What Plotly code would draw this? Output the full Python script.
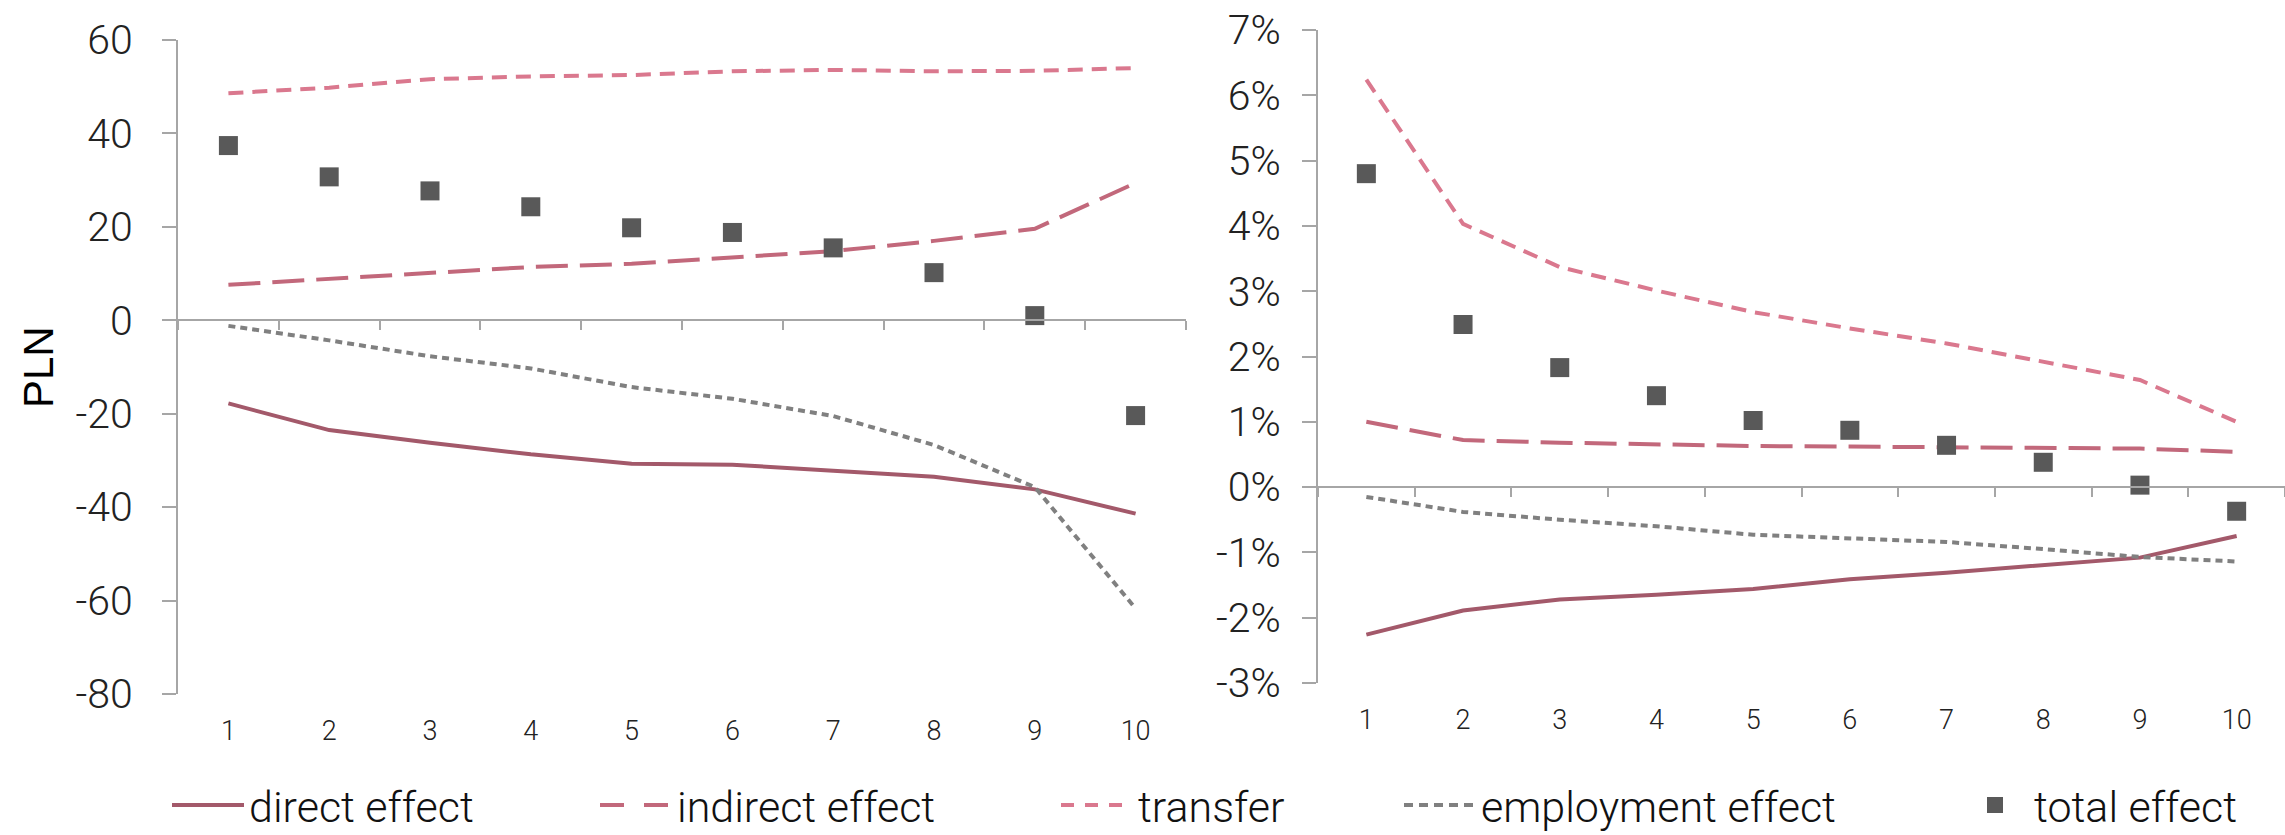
import plotly.graph_objects as go

# Deciles 1..10
deciles = list(range(1, 11))

# Left panel: effects in PLN
pln_direct = [-17.8, -23.5, -26.2, -28.7, -30.7, -30.9, -32.2, -33.5, -36.2, -41.4]
pln_indirect = [7.6, 8.9, 10.3, 11.4, 12.1, 13.4, 14.8, 17.0, 19.6, 29.4]
pln_transfer = [48.6, 49.8, 51.6, 52.2, 52.5, 53.3, 53.6, 53.3, 53.4, 54.0]
pln_employment = [-1.2, -4.3, -7.7, -10.3, -14.3, -16.8, -20.5, -26.7, -35.7, -61.7]
pln_total = [37.4, 30.7, 27.7, 24.3, 19.8, 18.8, 15.5, 10.2, 1.0, -20.4]

# Right panel: effects in % of income
pct_direct = [-2.26, -1.89, -1.72, -1.65, -1.56, -1.41, -1.31, -1.19, -1.08, -0.75]
pct_indirect = [1.00, 0.72, 0.68, 0.65, 0.63, 0.62, 0.61, 0.61, 0.59, 0.54]
pct_transfer = [6.24, 4.03, 3.37, 3.01, 2.68, 2.43, 2.20, 1.92, 1.64, 1.00]
pct_employment = [-0.15, -0.38, -0.50, -0.60, -0.73, -0.78, -0.84, -0.95, -1.07, -1.14]
pct_total = [4.80, 2.49, 1.83, 1.40, 1.02, 0.87, 0.64, 0.38, 0.03, -0.37]

# Axis ticks
pln_ticks = [-80, -60, -40, -20, 0, 20, 40, 60]
pln_ticktext = [str(v) for v in pln_ticks]
pct_ticks = [-3, -2, -1, 0, 1, 2, 3, 4, 5, 6, 7]
pct_ticktext = [f"{v}%" for v in pct_ticks]

names = ["direct effect", "indirect effect", "transfer", "employment effect", "total effect"]
colors = ["#A3596A", "#C2687B", "#DA788E", "#808080", "#595959"]
dashes = ["solid", "32px,12px", "15px,9px", "7px,5px", None]
# patterns for the wider legend swatches
legend_dashes = ["solid", "24px,20px", "13px,11px", "9px,6px", None]

W, H = 2285, 835
FONT = "Roboto, 'Open Sans', sans-serif"
AXIS_COLOR = "#A6A6A6"
legend_ids = ["legend", "legend2", "legend3", "legend4", "legend5"]

fig = go.Figure()

panels = [
    ("x", "y", [pln_direct, pln_indirect, pln_transfer, pln_employment, pln_total]),
    ("x2", "y2", [pct_direct, pct_indirect, pct_transfer, pct_employment, pct_total]),
]

for xa, ya, series in panels:
    for i, (name, vals) in enumerate(zip(names, series)):
        if dashes[i] is None:
            fig.add_trace(go.Scatter(
                x=deciles, y=vals, name=name, mode="markers", xaxis=xa, yaxis=ya,
                marker=dict(symbol="square", size=19, color=colors[i]),
                showlegend=False, hoverinfo="skip",
            ))
        else:
            fig.add_trace(go.Scatter(
                x=deciles, y=vals, name=name, mode="lines", xaxis=xa, yaxis=ya,
                line=dict(color=colors[i], width=4, dash=dashes[i]),
                showlegend=False, hoverinfo="skip",
            ))

# Legend entries (no data of their own)
for i, name in enumerate(names):
    if legend_dashes[i] is None:
        fig.add_trace(go.Scatter(
            x=[None], y=[None], name=name, mode="markers",
            marker=dict(symbol="square", size=19, color=colors[i]),
            legend=legend_ids[i], hoverinfo="skip",
        ))
    else:
        fig.add_trace(go.Scatter(
            x=[None], y=[None], name=name, mode="lines",
            line=dict(color=colors[i], width=4, dash=legend_dashes[i]),
            legend=legend_ids[i], hoverinfo="skip",
        ))

# Empty traces so the zero-line axes get drawn
fig.add_trace(go.Scatter(x=[], y=[], xaxis="x3", yaxis="y", showlegend=False))
fig.add_trace(go.Scatter(x=[], y=[], xaxis="x4", yaxis="y2", showlegend=False))

left_dom_x = [178 / W, 1186 / W]
left_dom_y = [(H - 694) / H, (H - 40) / H]
right_dom_x = [1318 / W, 1.0]
right_dom_y = [(H - 683) / H, (H - 30) / H]


def zero_pos(dom, lo, hi):
    return dom[0] + (0 - lo) / (hi - lo) * (dom[1] - dom[0])


boundaries = [d - 0.5 for d in deciles] + [deciles[-1] + 0.5]

label_axis = dict(
    range=[0.5, 10.5], tickvals=deciles, ticks="outside", ticklen=13,
    tickcolor="rgba(0,0,0,0)", showline=False, showgrid=False, zeroline=False,
    tickfont=dict(size=27, color="#222222"), automargin=False,
)
zero_axis = dict(
    range=[0.5, 10.5], tickvals=boundaries, ticks="outside", ticklen=9,
    tickwidth=2, tickcolor=AXIS_COLOR, showline=True, linecolor=AXIS_COLOR,
    linewidth=2, showticklabels=False, showgrid=False, zeroline=False,
    anchor="free", automargin=False,
)
value_axis = dict(
    showline=True, linecolor=AXIS_COLOR, linewidth=2, ticks="outside",
    ticklen=14, tickwidth=2, tickcolor=AXIS_COLOR, showgrid=False,
    zeroline=False, tickfont=dict(size=41, color="#222222"), automargin=False,
)

fig.update_layout(
    width=W, height=H,
    margin=dict(l=0, r=0, t=0, b=0, autoexpand=False),
    paper_bgcolor="white", plot_bgcolor="white",
    font=dict(family=FONT, weight=300, color="#222222"),
    xaxis=dict(domain=left_dom_x, anchor="y", **label_axis),
    yaxis=dict(domain=left_dom_y, anchor="x", range=[-80, 60],
               tickvals=pln_ticks, ticktext=pln_ticktext,
               ticklabelstandoff=21, **value_axis),
    xaxis2=dict(domain=right_dom_x, anchor="y2", **label_axis),
    yaxis2=dict(domain=right_dom_y, anchor="x2", range=[-3, 7],
                tickvals=pct_ticks, ticktext=pct_ticktext,
                ticklabelstandoff=13, **value_axis),
    xaxis3=dict(domain=left_dom_x, overlaying="x",
                position=zero_pos(left_dom_y, -80, 60), **zero_axis),
    xaxis4=dict(domain=right_dom_x, overlaying="x2",
                position=zero_pos(right_dom_y, -3, 7), **zero_axis),
    showlegend=True,
)

# One legend per series, spread along the bottom
legend_x = [167, 595, 1056, 1399, 1956]
legend_itemwidth = [72, 72, 72, 72, 68]
for lid, lx, iw in zip(legend_ids, legend_x, legend_itemwidth):
    fig.update_layout({lid: dict(
        orientation="h", x=lx / W, y=(H - 805) / H, xanchor="left",
        yanchor="middle", xref="container", yref="container",
        bgcolor="rgba(0,0,0,0)", borderwidth=0, itemwidth=iw,
        font=dict(size=43, family=FONT, weight=300, color="#111111"),
    )})

fig.add_annotation(
    text="PLN", textangle=-90, x=38 / W, y=sum(left_dom_y) / 2,
    xref="paper", yref="paper", xanchor="center", yanchor="middle",
    showarrow=False,
    font=dict(size=42, family="Liberation Sans, Arial, sans-serif",
              weight=400, color="#000000"),
)

fig.write_html("out.html")
